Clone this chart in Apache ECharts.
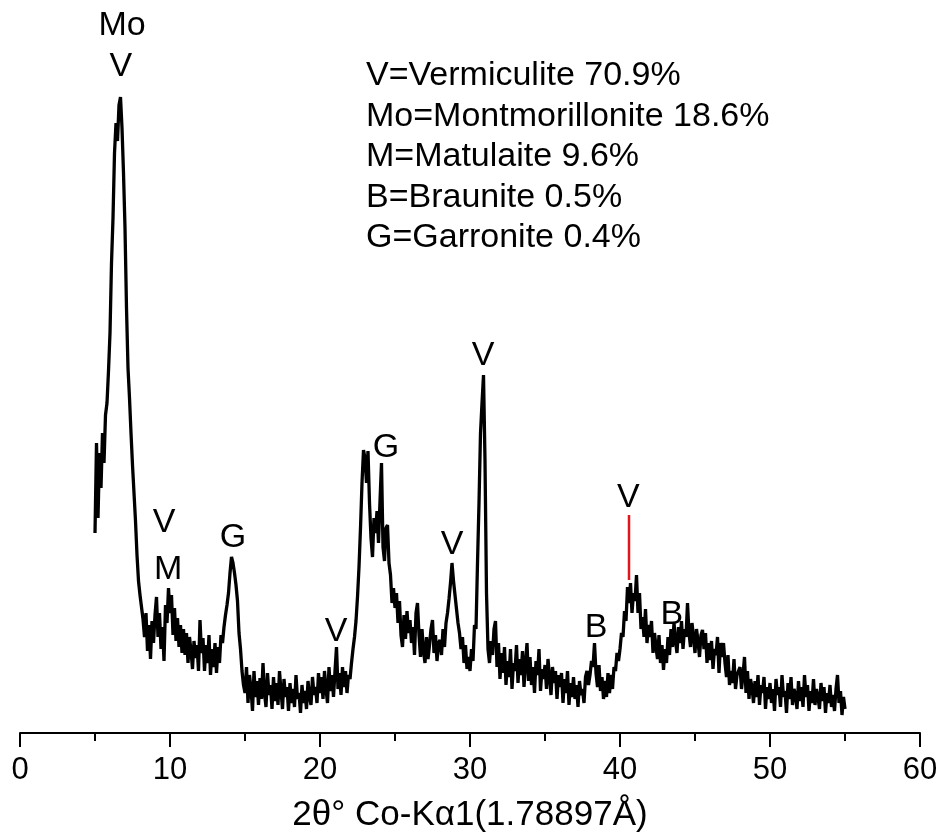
<!DOCTYPE html>
<html>
<head>
<meta charset="utf-8">
<script src="https://cdn.jsdelivr.net/npm/echarts@6/dist/echarts.min.js"></script>
<style>
html, body { margin: 0; padding: 0; background: #fff; }
#xrdchart { width: 938px; height: 832px; }
</style>
</head>
<body>
<div id="xrdchart"></div>
<script>
// scan: 2theta from 5.0 to 55.0, step 0.1 (counts, arbitrary units)
var thetaStart = 5.0;
var thetaStep = 0.1;
var intensity = [
  200, 290, 215, 280, 245, 300, 270, 318, 330, 362,   // 5
  400, 470, 515, 580, 610, 592, 628, 636, 605, 560,   // 6
  505, 425, 365, 335, 300, 268, 240, 212, 178, 152,   // 7
  138, 126, 114, 96, 120, 82, 108, 74, 112, 90,       // 8
  118, 136, 96, 120, 84, 106, 72, 128, 110, 145,      // 9
  120, 138, 98, 125, 92, 115, 86, 108, 80, 104,       // 10
  78, 100, 70, 96, 82, 64, 92, 75, 88, 62,            // 11
  113, 80, 95, 62, 88, 70, 98, 58, 84, 66,            // 12
  90, 60, 86, 70, 98, 90, 106, 118, 128, 140,         // 13
  160, 176, 170, 160, 148, 132, 100, 84, 62, 48,      // 14
  40, 66, 30, 58, 44, 22, 62, 36, 52, 28,             // 15
  55, 34, 70, 40, 26, 60, 38, 48, 24, 56,             // 16
  32, 50, 28, 62, 42, 24, 54, 36, 46, 22,             // 17
  50, 30, 44, 26, 58, 34, 40, 20, 48, 30,             // 18
  42, 24, 52, 36, 28, 56, 38, 46, 30, 60,             // 19
  40, 56, 34, 62, 44, 30, 66, 42, 58, 36,             // 20
  62, 86, 44, 60, 38, 66, 46, 62, 40, 58,             // 21
  54, 70, 84, 96, 112, 136, 166, 205, 250, 283,       // 22
  275, 250, 282, 230, 195, 176, 215, 200, 222, 190,   // 23
  232, 270, 186, 172, 205, 208, 170, 158, 130, 145,   // 24
  125, 140, 110, 132, 98, 86, 118, 94, 122, 100,      // 25
  113, 90, 106, 78, 120, 130, 98, 76, 104, 82,        // 26
  70, 96, 74, 88, 104, 113, 80, 98, 72, 90,           // 27
  93, 78, 104, 86, 110, 120, 134, 150, 170, 152,      // 28
  138, 124, 110, 100, 84, 96, 70, 88, 64, 76,         // 29
  62, 84, 72, 108, 104, 170, 230, 300, 330, 358,      // 30
  272, 140, 84, 70, 92, 78, 104, 112, 66, 90,         // 31
  54, 80, 60, 86, 48, 72, 56, 84, 44, 70,             // 32
  62, 88, 50, 74, 58, 82, 46, 70, 90, 52,             // 33
  76, 48, 66, 40, 72, 58, 84, 42, 64, 54,             // 34
  68, 44, 74, 56, 38, 66, 50, 62, 34, 58,             // 35
  46, 60, 30, 54, 40, 62, 28, 50, 36, 56,             // 36
  34, 48, 26, 52, 38, 44, 30, 56, 62, 48,             // 37
  58, 72, 66, 90, 60, 46, 68, 42, 56, 34,             // 38
  52, 36, 60, 40, 58, 44, 66, 62, 80, 72,             // 39
  84, 100, 96, 122, 112, 146, 130, 150, 120, 140,     // 40
  132, 158, 120, 140, 104, 116, 96, 124, 90, 108,     // 41
  96, 112, 80, 100, 86, 74, 98, 70, 88, 63,           // 42
  84, 70, 96, 78, 104, 86, 110, 92, 80, 106,          // 43
  90, 112, 84, 104, 96, 130, 100, 86, 110, 96,        // 44
  80, 104, 92, 76, 98, 103, 84, 100, 70, 90,          // 45
  73, 92, 64, 84, 78, 96, 60, 90, 76, 90,             // 46
  70, 56, 78, 48, 62, 50, 74, 44, 58, 60,             // 47
  66, 44, 58, 76, 40, 62, 34, 54, 46, 30,             // 48
  52, 36, 58, 28, 48, 40, 56, 24, 46, 34,             // 49
  50, 30, 44, 22, 54, 38, 46, 26, 58, 36,             // 50
  42, 20, 50, 34, 56, 28, 44, 38, 24, 52,             // 51
  32, 46, 26, 58, 36, 48, 22, 42, 30, 54,             // 52
  28, 44, 36, 24, 50, 32, 46, 20, 40, 30,             // 53
  48, 26, 38, 22, 44, 58, 30, 42, 18, 36,             // 54
  24                                                  // 55
];

// phase letters over the peaks
var peakNames = ['Mo', 'V', 'V', 'M', 'G', 'V', 'G', 'V', 'V', 'B', 'V', 'B'];
var peakX     = [6.8, 6.73, 9.6, 9.87, 14.2, 21.07, 24.4, 28.8, 30.87, 38.4, 40.55, 43.45];
var peakY     = [707, 666, 210, 163, 195, 101, 285, 188, 377, 105, 235, 118];

// red marker line at the 40.6 peak
var markerX = [40.6, 40.6];
var markerY = [153, 218];

var legendLines = [
  'V=Vermiculite 70.9%',
  'Mo=Montmorillonite 18.6%',
  'M=Matulaite 9.6%',
  'B=Braunite 0.5%',
  'G=Garronite 0.4%'
];

var xTicks = [0, 10, 20, 30, 40, 50, 60];

var fontName = '"Liberation Sans", Arial, sans-serif';

var scan = [];
for (var i = 0; i < intensity.length; i++) {
  scan.push([+(thetaStart + i * thetaStep).toFixed(2), intensity[i]]);
}
var peaks = [];
for (var i = 0; i < peakNames.length; i++) {
  peaks.push({ name: peakNames[i], value: [peakX[i], peakY[i]] });
}
var marker = [];
for (var i = 0; i < markerX.length; i++) {
  marker.push([markerX[i], markerY[i]]);
}

var legendText = [];
for (var i = 0; i < legendLines.length; i++) {
  legendText.push({
    type: 'text',
    x: 366,
    y: 76 + i * 40.5,
    style: {
      text: legendLines[i],
      fill: '#000',
      font: '34px ' + fontName,
      verticalAlign: 'middle'
    }
  });
}

var myChart = echarts.init(document.getElementById('xrdchart'));
var option = {
  animation: false,
  backgroundColor: '#fff',
  grid: { left: 20, right: 18, top: 33, bottom: 99, outerBoundsMode: 'none', containLabel: false },
  xAxis: {
    type: 'value',
    min: xTicks[0],
    max: xTicks[xTicks.length - 1],
    interval: 10,
    name: '2θ° Co-Kα1(1.78897Å)',
    nameLocation: 'middle',
    nameGap: 65,
    nameTextStyle: { fontSize: 35, color: '#000', fontFamily: fontName },
    axisLine: { show: true, lineStyle: { color: '#000', width: 2 } },
    axisTick: { show: true, inside: false, length: 14, lineStyle: { color: '#000', width: 2 } },
    minorTick: { show: true, splitNumber: 2, length: 8, lineStyle: { color: '#000', width: 2 } },
    axisLabel: { fontSize: 31, color: '#000', fontFamily: fontName, margin: 22 },
    splitLine: { show: false }
  },
  yAxis: {
    type: 'value',
    min: 0,
    max: 700,
    show: false
  },
  graphic: legendText,
  series: [
    {
      name: 'scan',
      type: 'line',
      data: scan,
      showSymbol: false,
      sampling: 'none',
      lineStyle: { color: '#000', width: 3.3 },
      z: 3
    },
    {
      name: 'marker',
      type: 'line',
      data: marker,
      showSymbol: false,
      lineStyle: { color: '#e0161d', width: 2.5 },
      z: 4
    },
    {
      name: 'peaks',
      type: 'scatter',
      data: peaks,
      symbolSize: 0,
      clip: false,
      itemStyle: { opacity: 1 },
      label: {
        show: true,
        position: 'inside',
        formatter: '{b}',
        fontSize: 34,
        color: '#000',
        opacity: 1,
        fontFamily: fontName
      },
      z: 5
    }
  ]
};
myChart.setOption(option);
</script>
</body>
</html>
